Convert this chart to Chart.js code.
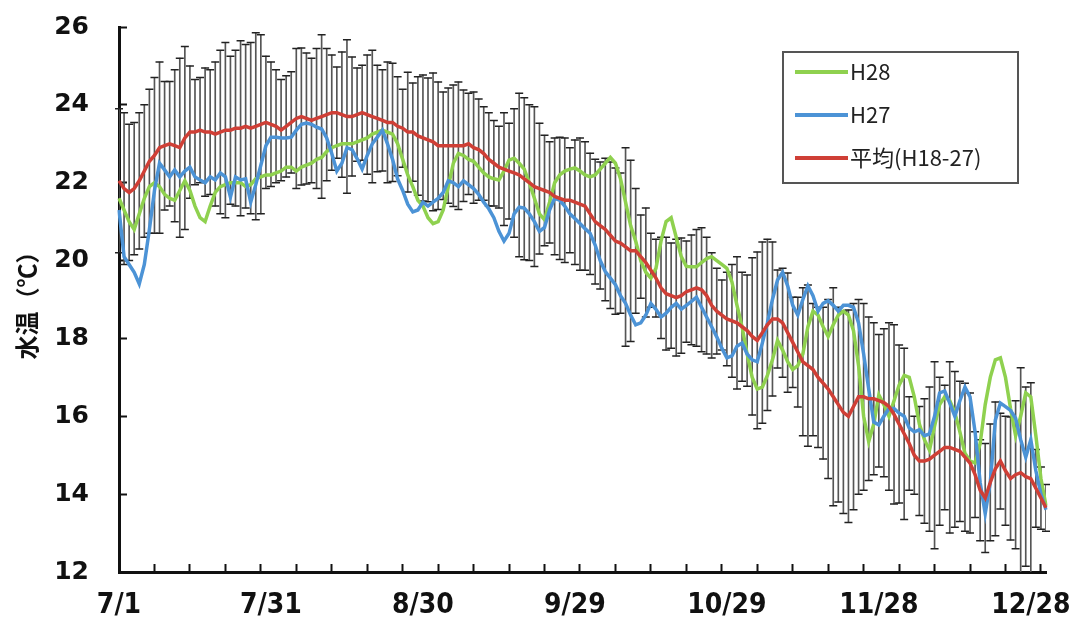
<!doctype html>
<html lang="ja">
<head>
<meta charset="utf-8">
<title>水温</title>
<style>
  * { margin: 0; padding: 0; }
  body { background: #fff; }
</style>
</head>
<body>
<canvas id="myChart" width="1069" height="617"></canvas>
<script src="https://cdn.jsdelivr.net/npm/chart.js/dist/chart.umd.min.js"></script>
<script>
// daily categories 7/1 .. 12/31
const days = [];
for (let i = 0; i < 184; i++) {
  const d = new Date(2016, 6, 1 + i);
  days.push((d.getMonth() + 1) + '/' + d.getDate());
}
const tickLabels = ['7/1', '7/31', '8/30', '9/29', '10/29', '11/28', '12/28'];

// 平均(H18-27)
const meanTemp = [
  22.05, 21.85, 21.75, 21.85, 22.05, 22.3, 22.55, 22.7, 22.9, 22.95,
  23.0, 22.95, 22.9, 23.15, 23.3, 23.3, 23.35, 23.3, 23.3, 23.25,
  23.3, 23.35, 23.35, 23.4, 23.4, 23.45, 23.4, 23.45, 23.5, 23.55,
  23.5, 23.45, 23.35, 23.45, 23.55, 23.65, 23.7, 23.65, 23.6, 23.65,
  23.7, 23.75, 23.8, 23.8, 23.75, 23.7, 23.7, 23.75, 23.8, 23.75,
  23.7, 23.65, 23.6, 23.55, 23.55, 23.45, 23.4, 23.3, 23.3, 23.2,
  23.15, 23.1, 23.05, 22.95, 22.95, 22.95, 22.95, 22.95, 22.95, 23.0,
  22.9, 22.85, 22.75, 22.6, 22.5, 22.4, 22.35, 22.3, 22.25, 22.2,
  22.1, 22.0, 21.9, 21.85, 21.8, 21.75, 21.65, 21.6, 21.55, 21.55,
  21.5, 21.45, 21.4, 21.2, 21.0, 20.9, 20.8, 20.65, 20.5, 20.45,
  20.35, 20.25, 20.25, 20.1, 19.95, 19.75, 19.55, 19.3, 19.15, 19.1,
  19.05, 19.1, 19.2, 19.25, 19.3, 19.25, 19.1, 18.85, 18.7, 18.6,
  18.5, 18.45, 18.4, 18.3, 18.2, 18.05, 17.95, 18.15, 18.35, 18.5,
  18.5, 18.4, 18.15, 17.9, 17.65, 17.4, 17.3, 17.2, 17.0, 16.85,
  16.7, 16.5, 16.3, 16.1, 16.0, 16.25, 16.5, 16.5, 16.45, 16.45,
  16.4, 16.35, 16.25, 16.05, 15.8, 15.55, 15.3, 15.0, 14.85, 14.85,
  14.9, 15.0, 15.1, 15.2, 15.2, 15.15, 15.1, 14.95, 14.8, 14.5,
  14.1, 13.9, 14.3, 14.65, 14.85, 14.6, 14.4, 14.5, 14.55, 14.45,
  14.4, 14.15, 13.9, 13.65
];

// standard deviation of the average (error bars)
const sdTemp = [
  1.85, 1.95, 1.75, 1.7, 1.75, 1.7, 1.85, 2.0, 2.2, 1.65,
  1.6, 1.95, 2.3, 2.35, 1.7, 1.35, 1.35, 1.65, 1.6, 1.85,
  2.1, 2.25, 1.9, 2.0, 2.25, 2.1, 2.2, 2.4, 2.3, 1.7,
  1.6, 1.45, 1.3, 1.3, 1.3, 1.8, 1.76, 1.68, 1.6, 1.8,
  2.1, 1.7, 1.48, 1.17, 1.61, 1.97, 1.53, 1.2, 1.22, 1.53,
  1.7, 1.37, 1.3, 1.55, 1.52, 1.27, 1.0, 1.54, 1.26, 1.52,
  1.62, 1.59, 1.77, 1.64, 1.38, 1.48, 1.56, 1.64, 1.43, 1.3,
  1.43, 1.3, 1.2, 1.2, 1.1, 1.05, 1.45, 1.23, 1.65, 2.1,
  2.08, 2.0, 2.05, 1.68, 1.42, 1.3, 1.5, 1.57, 1.6, 1.35,
  1.6, 1.7, 1.65, 1.56, 1.6, 1.63, 1.83, 1.88, 1.88, 1.8,
  2.55, 2.33, 1.6, 1.07, 1.4, 0.95, 1.0, 1.3, 1.45, 1.35,
  1.5, 1.48, 1.3, 1.41, 1.5, 1.59, 1.5, 1.35, 1.1, 0.9,
  1.2, 1.45, 1.7, 1.4, 1.43, 2.02, 2.27, 2.33, 2.2, 1.98,
  1.26, 1.4, 1.53, 1.16, 1.41, 1.9, 2.07, 1.7, 1.8, 1.95,
  2.3, 2.8, 2.5, 2.6, 2.73, 2.65, 2.5, 2.4, 2.1, 1.95,
  1.7, 1.9, 2.15, 2.3, 2.03, 2.2, 1.2, 1.0, 1.4, 1.6,
  1.85, 2.4, 1.9, 1.6, 2.2, 2.0, 1.8, 1.9, 1.8, 1.1,
  1.3, 1.4, 1.5, 1.72, 1.23, 1.4, 1.58, 1.9, 2.7, 2.3,
  2.46, 1.0, 0.8, 0.6
];

// H28
const h28Temp = [
  21.6, 21.3, 21.0, 20.8, 21.2, 21.6, 21.9, 22.0, 21.9, 21.7,
  21.6, 21.55, 21.8, 22.05, 21.8, 21.4, 21.1, 21.0, 21.4, 21.75,
  21.9, 21.95, 22.0, 22.0, 22.0, 21.9, 21.95, 22.1, 22.15, 22.2,
  22.2, 22.25, 22.3, 22.4, 22.4, 22.3, 22.4, 22.45, 22.5, 22.6,
  22.65, 22.8, 22.9, 22.95, 23.0, 23.0, 23.0, 23.05, 23.1, 23.15,
  23.25, 23.3, 23.35, 23.3, 23.25, 23.0, 22.6, 22.2, 21.9, 21.55,
  21.4, 21.1, 20.95, 21.0, 21.3, 21.9, 22.5, 22.75, 22.7, 22.6,
  22.55, 22.4, 22.25, 22.15, 22.1, 22.07, 22.3, 22.58, 22.63, 22.5,
  22.35, 22.0, 21.6, 21.2, 21.05, 21.5, 22.0, 22.2, 22.3, 22.35,
  22.38, 22.3, 22.2, 22.15, 22.2, 22.35, 22.5, 22.65, 22.5, 22.1,
  21.5, 20.9, 20.5, 20.0, 19.7, 19.55, 19.8, 20.5, 21.0, 21.1,
  20.6, 20.1, 19.85, 19.84, 19.84, 19.95, 20.05, 20.1, 20.0, 19.9,
  19.8, 19.45, 18.85, 18.3, 17.6, 17.0, 16.7, 16.75, 17.05, 17.45,
  17.95, 17.7, 17.4, 17.2, 17.3, 17.6, 18.3, 18.7, 18.6, 18.3,
  18.05, 18.35, 18.6, 18.7, 18.6, 18.2, 17.3, 16.0, 15.35, 15.8,
  16.55, 16.3, 16.0, 16.4, 16.8, 17.05, 17.0, 16.5, 15.8, 15.4,
  15.13, 15.75, 16.3, 16.5, 16.4, 16.1, 15.6, 15.05, 14.85, 14.8,
  15.3, 16.3, 17.0, 17.45, 17.5, 17.0, 16.2, 15.5, 16.0, 16.6,
  16.5, 15.5, 14.4, 13.7
];

// H27
const h27Temp = [
  21.3, 20.1, 19.9, 19.7, 19.4, 19.9, 20.8, 21.8, 22.5, 22.33,
  22.15, 22.33, 22.15, 22.3, 22.4, 22.15, 22.07, 22.0, 22.15, 22.07,
  22.25, 22.15, 21.63, 22.15, 22.07, 22.1, 21.5, 21.95, 22.45, 22.95,
  23.17, 23.17, 23.15, 23.15, 23.17, 23.35, 23.5, 23.53, 23.5, 23.43,
  23.38, 23.15, 22.75, 22.3, 22.5, 22.9, 22.85, 22.62, 22.35, 22.7,
  23.0, 23.17, 23.35, 23.0, 22.6, 22.1, 21.8, 21.45, 21.25, 21.3,
  21.5, 21.4, 21.5, 21.6, 21.75, 22.05, 22.0, 21.9, 22.05, 21.95,
  21.85, 21.7, 21.5, 21.33, 21.1, 20.75, 20.5, 20.7, 21.2, 21.37,
  21.35, 21.2, 21.0, 20.75, 20.85, 21.3, 21.6, 21.55, 21.4, 21.2,
  21.08, 20.95, 20.82, 20.7, 20.4, 20.0, 19.72, 19.55, 19.38, 19.1,
  18.9, 18.6, 18.35, 18.4, 18.6, 18.9, 18.75, 18.55, 18.65, 18.8,
  18.9, 18.75, 18.85, 18.95, 19.06, 18.8, 18.55, 18.3, 18.04, 17.75,
  17.5, 17.55, 17.8, 17.88, 17.6, 17.45, 17.4, 17.88, 18.4, 19.0,
  19.5, 19.7, 19.35, 18.85, 18.6, 19.0, 19.35, 19.1, 18.7, 18.9,
  18.97, 18.85, 18.7, 18.85, 18.85, 18.8, 18.4, 17.6, 16.7, 15.85,
  15.78, 16.0, 16.2, 16.2, 16.08, 16.0, 15.7, 15.6, 15.65, 15.5,
  15.55, 16.0, 16.6, 16.65, 16.34, 16.0, 16.4, 16.75, 16.5, 15.6,
  14.3, 13.5, 14.3, 15.9, 16.34, 16.25, 16.15, 15.95, 15.4, 14.95,
  15.4, 14.6, 14.0, 13.6
];

const errRange = meanTemp.map((m, i) => [m - sdTemp[i], m + sdTemp[i]]);
const errHigh = meanTemp.map((m, i) => m + sdTemp[i]);
const errLow = meanTemp.map((m, i) => m - sdTemp[i]);

// legend with a frame, inside the plot area
const boxLegend = {
  id: 'boxLegend',
  afterDraw(chart) {
    const {ctx, chartArea} = chart;
    const x = chartArea.right - 263, y = chartArea.top + 25, w = 235, h = 131;
    ctx.save();
    ctx.fillStyle = '#fff';
    ctx.fillRect(x, y, w, h);
    ctx.strokeStyle = '#555';
    ctx.lineWidth = 2;
    ctx.strokeRect(x, y, w, h);
    ctx.font = '22px "Noto Sans CJK JP", sans-serif';
    ctx.textBaseline = 'middle';
    chart.data.datasets.filter(d => d.inLegend).forEach((ds, i) => {
      const ly = y + 20 + i * 43;
      ctx.strokeStyle = ds.borderColor;
      ctx.lineWidth = 4;
      ctx.beginPath();
      ctx.moveTo(x + 12, ly);
      ctx.lineTo(x + 65, ly);
      ctx.stroke();
      ctx.fillStyle = '#222';
      ctx.fillText(ds.label, x + 67, ly);
    });
    ctx.restore();
  }
};

const lineStyle = {type: 'line', pointRadius: 0, borderWidth: 3.5, tension: 0, fill: false, inLegend: true};

const config = {
  type: 'line',
  data: {
    labels: days,
    datasets: [
      Object.assign({label: 'H28', data: h28Temp, borderColor: '#8fd14f', order: 3}, lineStyle),
      Object.assign({label: 'H27', data: h27Temp, borderColor: '#4c93d6', order: 2}, lineStyle),
      Object.assign({label: '平均(H18-27)', data: meanTemp, borderColor: '#cf3f36', order: 1}, lineStyle),
      {type: 'bar', label: 'sd', data: errRange, backgroundColor: '#555', barThickness: 1, borderWidth: 0, order: 6},
      {type: 'line', label: 'hi', data: errHigh, showLine: false, pointStyle: 'line', pointRadius: 4,
       pointBorderWidth: 1.5, pointBorderColor: '#222', order: 5},
      {type: 'line', label: 'lo', data: errLow, showLine: false, pointStyle: 'line', pointRadius: 4,
       pointBorderWidth: 1.5, pointBorderColor: '#222', order: 5}
    ]
  },
  options: {
    responsive: false,
    animation: false,
    events: [],
    layout: {padding: {left: 0, top: 27, right: 23, bottom: 0}},
    plugins: {legend: {display: false}, tooltip: {enabled: false}},
    scales: {
      x: {
        offset: false,
        grid: {
          offset: false, drawOnChartArea: false, tickLength: -8, tickWidth: 2,
          tickColor: c => c.index % 7 === 0 ? '#111' : 'rgba(0,0,0,0)'
        },
        border: {color: '#111', width: 3},
        ticks: {
          autoSkip: false, maxRotation: 0, minRotation: 0, padding: 25, color: '#111',
          font: {family: '"Liberation Sans Narrow", "DejaVu Sans Condensed", sans-serif', size: 28, weight: 'bold'},
          callback: (v, i) => i % 30 === 0 ? tickLabels[i / 30] : ''
        },
        afterFit: s => { s.height = 45; s.paddingLeft = 0; s.paddingRight = 0; }
      },
      y: {
        min: 12,
        max: 26,
        grid: {drawOnChartArea: false, tickLength: -8, tickWidth: 2, tickColor: '#111'},
        border: {color: '#111', width: 3},
        ticks: {
          stepSize: 2, padding: 38, color: '#111',
          font: {family: '"DejaVu Sans", sans-serif', size: 25, weight: 'bold'}
        },
        title: {
          display: true, text: '水温（℃）', color: '#111',
          font: {family: '"Noto Sans CJK JP", sans-serif', size: 24, weight: 'bold'},
          padding: {top: 12, bottom: 0}
        },
        afterFit: s => { s.width = 119; s.paddingTop = 0; s.paddingBottom = 0; }
      }
    }
  },
  plugins: [boxLegend]
};

const myChart = new Chart(document.getElementById('myChart'), config);
</script>
</body>
</html>
